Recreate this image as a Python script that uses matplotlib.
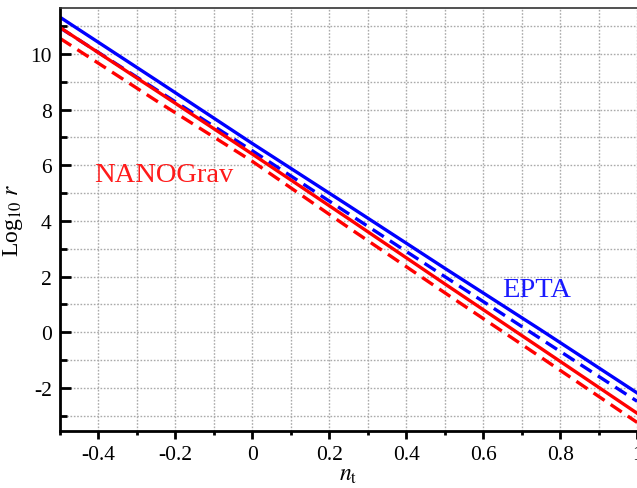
import numpy as np
import matplotlib.pyplot as plt
from matplotlib.ticker import MultipleLocator

plt.rcParams['font.family'] = 'Liberation Serif'
plt.rcParams['mathtext.fontset'] = 'stix'

# Daten
nt = [-0.5, -0.25, 0.0, 0.25, 0.5, 0.75, 1.0]
epta_solid = [11.32, 9.06, 6.78, 4.55, 2.30, 0.08, -2.18]
epta_dashed = [10.94, 8.72, 6.52, 4.26, 2.00, -0.24, -2.48]
nano_solid = [10.95, 8.68, 6.40, 4.08, 1.74, -0.58, -2.91]
nano_dashed = [10.56, 8.32, 6.14, 3.76, 1.42, -0.90, -3.24]

fig = plt.figure(figsize=(6.37, 4.89), dpi=100)
ax = fig.add_axes([0.0942, 0.117, 0.906, 0.864])

ax.plot(nt, epta_solid, color='#0000ff', lw=2.4)
ax.plot(nt, epta_dashed, color='#0000ff', lw=2.4, ls=(0, (4, 2.2)))
ax.plot(nt, nano_solid, color='#ff0000', lw=2.4)
ax.plot(nt, nano_dashed, color='#ff0000', lw=2.4, ls=(0, (4, 2.2)))

ax.text(-0.41, 5.68, 'NANOGrav', color='#ff1a1a', fontsize=20.5, va='center')
ax.text(0.65, 1.55, 'EPTA', color='#1a1aff', fontsize=20.5, va='center')

ax.set_xlim(-0.5, 1.0)
ax.set_ylim(-3.54, 11.64)

ax.xaxis.set_major_locator(MultipleLocator(0.2))
ax.xaxis.set_minor_locator(MultipleLocator(0.1))
ax.yaxis.set_major_locator(MultipleLocator(2))
ax.yaxis.set_minor_locator(MultipleLocator(1))
ax.set_xticks([-0.4, -0.2, 0, 0.2, 0.4, 0.6, 0.8, 1.0])
ax.set_xticklabels(['-0.4', '-0.2', '0', '0.2', '0.4', '0.6', '0.8', '1'])
ax.set_yticks([-2, 0, 2, 4, 6, 8, 10])
ax.set_yticklabels(['-2', '0', '2', '4', '6', '8', '10'])

ax.grid(which='both', color='#aaaaaa', ls=(0, (1.2, 1.2)), lw=1)
ax.set_axisbelow(True)

ax.tick_params(axis='y', which='major', direction='in', length=8, width=2, labelsize=15.5, pad=6)
ax.tick_params(axis='y', which='minor', direction='in', length=5, width=2)
ax.tick_params(axis='x', which='major', direction='out', length=6, width=2, labelsize=15.5, pad=4)
ax.tick_params(axis='x', which='minor', direction='out', length=3, width=2)

ax.spines['left'].set_linewidth(2)
ax.spines['bottom'].set_linewidth(2)
ax.spines['top'].set_linewidth(1.2)
ax.spines['top'].set_color('#333333')
ax.spines['right'].set_visible(False)

ax.set_xlabel(r'$n_{\mathrm{t}}$', fontsize=17, labelpad=0)
ax.set_ylabel(r'Log$_{10}$ $r$', fontsize=17, labelpad=4)

plt.savefig('out.png', dpi=100)
